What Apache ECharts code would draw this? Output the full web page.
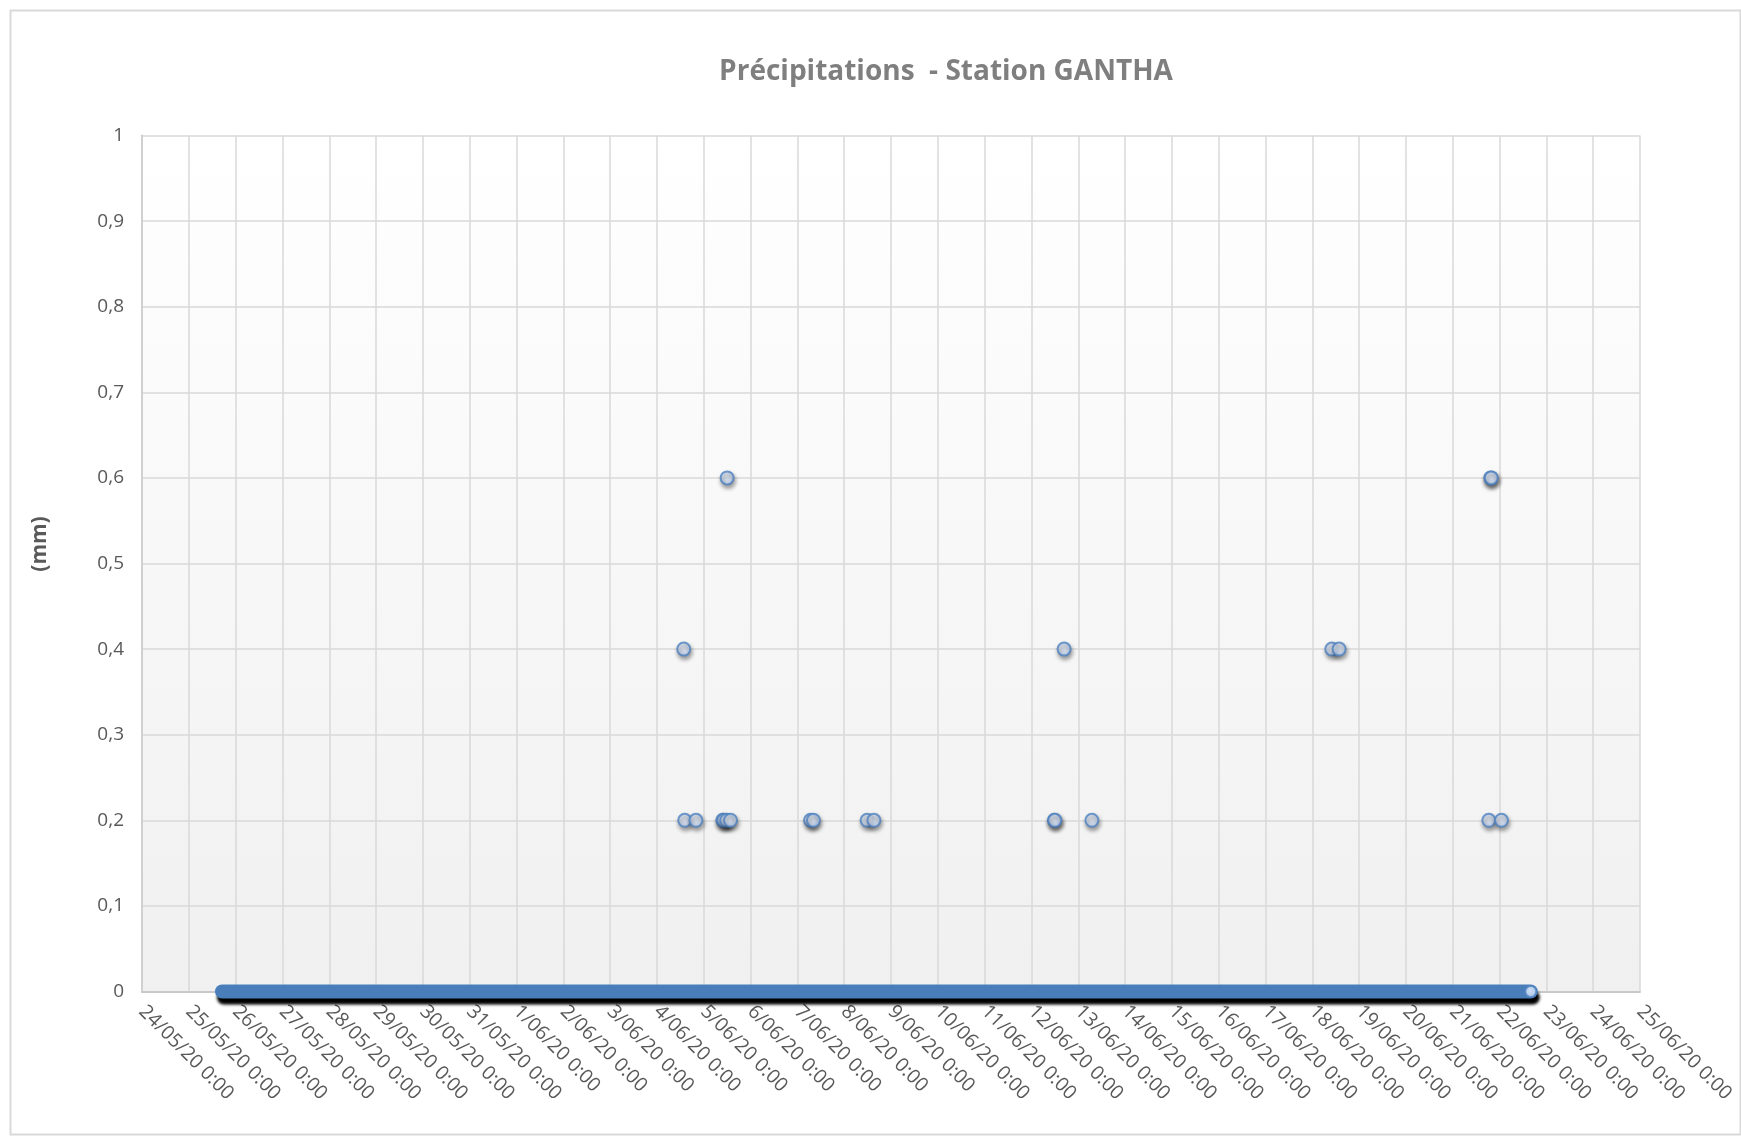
<!DOCTYPE html>
<html>
<head>
<meta charset="utf-8">
<script src="https://cdn.jsdelivr.net/npm/echarts@6/dist/echarts.min.js"></script>
<style>
html,body{margin:0;padding:0;background:#fff;}
#chart{width:1741px;height:1136px;}
</style>
</head>
<body>
<div id="chart"></div>
<script>
// ---- data ----
const titleText = 'Précipitations  - Station GANTHA';
const yAxisTitle = '(mm)';
const axisStart = '2020-05-24 00:00';
const axisEnd = '2020-06-25 00:00';
const yTicks = [0, 0.1, 0.2, 0.3, 0.4, 0.5, 0.6, 0.7, 0.8, 0.9, 1];

// continuous run of zero readings (first and last reading of the period)
const zeroRunTimes = ['2020-05-25 17:00', '2020-06-22 16:00'];
const zeroRunValues = [0, 0];

// non-zero readings
const rainTimes = [
  '2020-06-04 13:45', '2020-06-04 14:15', '2020-06-04 20:00',
  '2020-06-05 09:45', '2020-06-05 10:15', '2020-06-05 11:45', '2020-06-05 12:00', '2020-06-05 13:45',
  '2020-06-07 06:45', '2020-06-07 08:15',
  '2020-06-08 11:45', '2020-06-08 15:15',
  '2020-06-12 11:45', '2020-06-12 12:00', '2020-06-12 16:45', '2020-06-13 07:00',
  '2020-06-18 10:00', '2020-06-18 13:45',
  '2020-06-21 18:30', '2020-06-21 19:30', '2020-06-21 19:45', '2020-06-22 01:00'
];
const rainValues = [
  0.4, 0.2, 0.2,
  0.2, 0.2, 0.2, 0.6, 0.2,
  0.2, 0.2,
  0.2, 0.2,
  0.2, 0.2, 0.4, 0.2,
  0.4, 0.4,
  0.2, 0.6, 0.6, 0.2
];

// ---- helpers ----
function toMs(s) {
  const [d, t] = s.split(' ');
  const [Y, M, D] = d.split('-').map(Number);
  const [h, m] = t.split(':').map(Number);
  return Date.UTC(Y, M - 1, D, h, m);
}
const DAY = 86400000;
function fmtDate(v) {
  const d = new Date(v);
  const day = d.getUTCDate();
  const mon = String(d.getUTCMonth() + 1).padStart(2, '0');
  const yr = String(d.getUTCFullYear()).slice(2);
  return day + '/' + mon + '/' + yr + ' ' + d.getUTCHours() + ':' + String(d.getUTCMinutes()).padStart(2, '0');
}

const zeroData = zeroRunTimes.map((t, i) => [toMs(t), zeroRunValues[i]]);
const rainData = rainTimes.map((t, i) => [toMs(t), rainValues[i]]);
const lastZero = [zeroData[zeroData.length - 1]];

const markerFill = {
  type: 'radial', x: 0.45, y: 0.4, r: 0.7,
  colorStops: [{offset: 0, color: '#edf3fe'}, {offset: 1, color: '#bcd3f7'}]
};
const markerStyle = {
  color: markerFill,
  borderColor: '#4f82c0',
  borderWidth: 2,
  shadowColor: 'rgba(0,0,0,0.45)',
  shadowBlur: 4,
  shadowOffsetX: 1,
  shadowOffsetY: 3
};

const chart = echarts.init(document.getElementById('chart'), null, {renderer: 'canvas'});
chart.setOption({
  animation: false,
  backgroundColor: '#ffffff',
  title: {
    text: titleText,
    left: 941,
    top: 53,
    textAlign: 'center',
    textStyle: {fontFamily: 'Open Sans', fontWeight: 'bold', fontSize: 28, color: '#7f7f7f'}
  },
  graphic: [
    {
      type: 'rect', left: 8, top: 8, silent: true,
      shape: {width: 1730, height: 1124},
      style: {fill: 'none', stroke: '#d9d9d9', lineWidth: 2}
    },
    {
      type: 'text', x: 40, y: 544, rotation: Math.PI / 2,
      style: {
        text: yAxisTitle, fontFamily: 'Open Sans', fontWeight: 'bold', fontSize: 21,
        fill: '#595959', align: 'center', verticalAlign: 'middle'
      }
    }
  ],
  grid: {
    left: 142, right: 101, top: 135.5, bottom: 144.5,
    show: true,
    borderWidth: 0,
    backgroundColor: {
      type: 'linear', x: 0, y: 0, x2: 0, y2: 1,
      colorStops: [{offset: 0, color: '#ffffff'}, {offset: 1, color: '#f0f0f0'}]
    }
  },
  xAxis: {
    type: 'value',
    min: toMs(axisStart),
    max: toMs(axisEnd),
    interval: DAY,
    axisLine: {show: true, lineStyle: {color: '#c8c8c8', width: 2}},
    axisTick: {show: false},
    splitLine: {show: true, lineStyle: {color: '#d9d9d9', width: 1.5}},
    axisLabel: {
      rotate: -45,
      margin: 17,
      fontFamily: 'Open Sans',
      fontSize: 19.5,
      color: '#595959',
      showMinLabel: true,
      showMaxLabel: true,
      formatter: fmtDate
    }
  },
  yAxis: {
    type: 'value',
    min: yTicks[0],
    max: yTicks[yTicks.length - 1],
    interval: 0.1,
    axisLine: {show: true, lineStyle: {color: '#d0d0d0', width: 2}},
    axisTick: {show: false},
    splitLine: {show: true, lineStyle: {color: '#d9d9d9', width: 1.5}},
    axisLabel: {
      margin: 18,
      fontFamily: 'Open Sans',
      fontSize: 19,
      color: '#595959',
      formatter: v => String(Math.round(v * 10) / 10).replace('.', ',')
    }
  },
  series: [
    {
      type: 'line',
      data: zeroData,
      symbol: 'none',
      clip: false,
      lineStyle: {
        color: '#4a7ebb', width: 14, cap: 'round',
        shadowColor: '#000000', shadowBlur: 3, shadowOffsetX: 2, shadowOffsetY: 6
      },
      z: 2
    },
    {
      type: 'scatter',
      data: lastZero,
      symbol: 'circle',
      symbolSize: 11,
      clip: false,
      itemStyle: Object.assign({}, markerStyle, {shadowColor: 'rgba(0,0,0,0)'}),
      z: 3
    },
    {
      type: 'scatter',
      data: rainData,
      symbol: 'circle',
      symbolSize: 13,
      itemStyle: markerStyle,
      z: 4
    }
  ]
});
</script>
</body>
</html>
